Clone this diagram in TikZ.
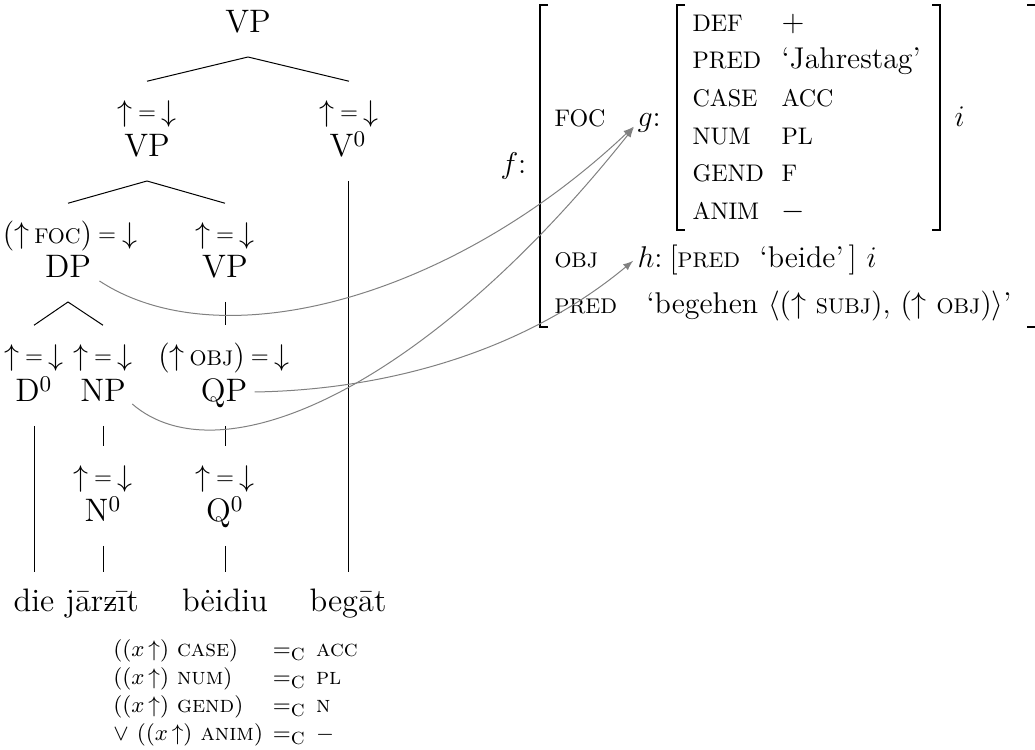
\documentclass[tikz,border=0pt]{standalone}
\usepackage{fontspec}
\newcommand{\featname}[1]{{\fontsize{9.6}{11}\selectfont #1}}
\newcommand{\fsc}[1]{{\fontsize{8.5}{9}\selectfont #1}}
\newcommand{\smeq}{\raisebox{0.9pt}{\fontsize{9}{9}\selectfont=}}
\newcommand{\upeq}{$\uparrow$\hspace{2.4pt}\smeq\hspace{2.4pt}$\downarrow$}
\newcommand{\zstroke}{\ooalign{z\cr\hidewidth\rule[0.5ex]{0.34em}{0.04em}\hidewidth\cr}}

\begin{document}
\begin{tikzpicture}[x=0.4pt,y=-0.4pt,
  cat/.style={font=\fontsize{13}{15}\selectfont, inner sep=0pt, text depth=0pt, outer ysep=9.6pt, anchor=base},
  ann/.style={font=\fontsize{12}{14}\selectfont, inner sep=0pt, text height=8.3pt, outer ysep=8pt, anchor=base},
  word/.style={font=\fontsize{13}{15}\selectfont, inner sep=0pt, text height=8.3pt, outer ysep=7.6pt, anchor=base},
  avm/.style={font=\fontsize{12}{14}\selectfont, inner sep=0pt, anchor=base west},
  brk/.style={line width=1.1pt},
  link/.style={gray, >=latex, ->, shorten >=2pt}]
\useasboundingbox (0,0) rectangle (1035,750);
% c-structure
\node[cat] (vp) at (248,33) {VP};
\node[ann] (u-vp1) at (147,122) {\upeq};
\node[cat] (vp1) at (147,157) {VP};
\node[ann] (u-v0) at (349,122) {\upeq};
\node[cat] (v0) at (348,157) {V$^0$};
\node[ann] (u-dp) at (70,244) {$(\uparrow$\,\fsc{FOC}$)$\hspace{2.4pt}\smeq\hspace{2.4pt}$\downarrow$};
\node[cat] (dp) at (68,278) {DP};
\node[ann] (u-vp2) at (225,244) {\upeq};
\node[cat] (vp2) at (225,278) {VP};
\node[ann] (u-d0) at (34,366) {\upeq};
\node[cat] (d0) at (34,402) {D$^0$};
\node[ann] (u-np) at (103,366) {\upeq};
\node[cat] (np) at (103,402) {NP};
\node[ann] (u-qp) at (224,366) {$(\uparrow$\,\fsc{OBJ}$)$\hspace{2.4pt}\smeq\hspace{2.4pt}$\downarrow$};
\node[cat] (qp) at (224,402) {QP};
\node[ann] (u-n0) at (103,487) {\upeq};
\node[cat] (n0) at (103,522) {N$^0$};
\node[ann] (u-q0) at (225,487) {\upeq};
\node[cat] (q0) at (225,522) {Q$^0$};
\node[word] (w-die) at (34,612) {die};
\node[word] (w-jar) at (102,612) {jār\zstroke īt};
\node[word] (w-beid) at (225,612) {bėidiu};
\node[word] (w-beg) at (348,612) {begāt};
\draw (vp.south) -- (u-vp1.north);
\draw (vp.south) -- (u-v0.north);
\draw (vp1.south) -- (u-dp.north -| dp.south);
\draw (vp1.south) -- (u-vp2.north);
\draw (v0.south) -- (w-beg.north);
\draw (dp.south) -- (u-d0.north);
\draw (dp.south) -- (u-np.north);
\draw (vp2.south) -- (u-qp.north -| vp2.south);
\draw (d0.south) -- (w-die.north);
\draw (np.south) -- (u-n0.north);
\draw (qp.south -| vp2.south) -- (u-q0.north);
\draw (n0.south) -- (w-jar.north -| n0.south);
\draw (q0.south) -- (w-beid.north);
% constraints under the words
\node[anchor=north west, inner sep=0pt, font=\fontsize{9.4}{11.2}\selectfont] (cons) at (113,636) {%
  \begin{tabular}{@{}l@{\hspace{4pt}}l@{\hspace{4pt}}l@{}}
  $((x\,{\uparrow})$ \textsc{case}$)$ & $=_{\textsc{c}}$ & \textsc{acc}\\
  $((x\,{\uparrow})$ \textsc{num}$)$ & $=_{\textsc{c}}$ & \textsc{pl}\\
  $((x\,{\uparrow})$ \textsc{gend}$)$ & $=_{\textsc{c}}$ & \textsc{n}\\
  $\vee$ $((x\,{\uparrow})$ \textsc{anim}$)$ & $=_{\textsc{c}}$ & $-$
  \end{tabular}};
% f-structure
\node[avm] (f) at (500,174) {$f$:};
\draw[brk] (548,5) -- (540,5) -- (540,327) -- (548,327);
\draw[brk] (1027,5) -- (1037,5) -- (1037,327) -- (1027,327);
\node[avm] (foc) at (554,127) {\featname{FOC}};
\node[avm] (g) at (637,127) {$g$:};
\draw[brk] (685,5) -- (677,5) -- (677,230) -- (685,230);
\draw[brk] (932,5) -- (940,5) -- (940,230) -- (932,230);
\node[avm] (def) at (692,32) {\featname{DEF}};
\node[avm] (def-v) at (781,32) {$+$};
\node[avm] (pred) at (692,69) {\featname{PRED}};
\node[avm] (pred-v) at (781,69) {`Jahrestag'};
\node[avm] (case) at (692,107) {\featname{CASE}};
\node[avm] (case-v) at (781,107) {\featname{ACC}};
\node[avm] (num) at (692,145) {\featname{NUM}};
\node[avm] (num-v) at (781,145) {\featname{PL}};
\node[avm] (gend) at (692,182) {\featname{GEND}};
\node[avm] (gend-v) at (781,182) {\featname{F}};
\node[avm] (anim) at (692,220) {\featname{ANIM}};
\node[avm] (anim-v) at (781,220) {$-$};
\node[avm] (g-i) at (954,127) {$i$};
\node[avm] (obj) at (554,268) {\fsc{OBJ}};
\node[avm] (h) at (637,268) {$h$:};
\node[avm] (h-v) at (669,268) {$\bigl[$\fsc{PRED}\ \ `beide'\,$\bigr]$\ $i$};
\node[avm] (fpred) at (554,314) {\fsc{PRED}};
\node[avm] (fpred-v) at (646,314) {`begehen $\langle(\uparrow$ \fsc{SUBJ}$)$, $(\uparrow$ \fsc{OBJ}$)\rangle$'};
% links
\draw[link] ([shift={(8,3)}]dp.base east) .. controls (220,360) and (450,300) .. (g.west);
\draw[link] ([shift={(6,2)}]np.base east) .. controls (220,480) and (425,390) .. (g.west);
\draw[link] ([shift={(7,-10)}]qp.base east) .. controls (380,390) and (520,355) .. (h.west);
\end{tikzpicture}
\end{document}
